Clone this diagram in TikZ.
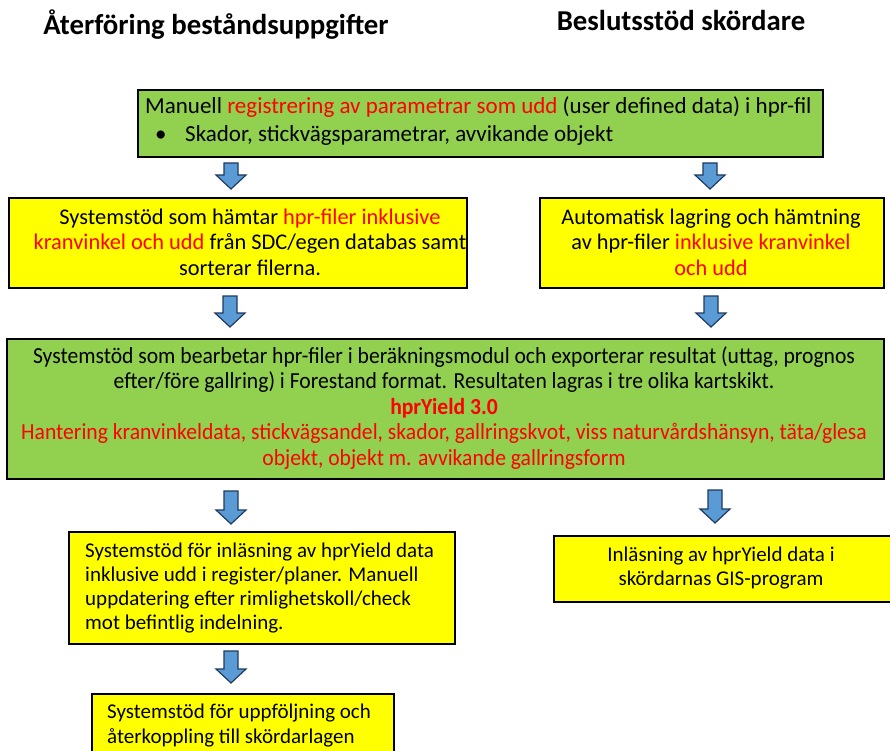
\documentclass[tikz,border=0pt]{standalone}
\usepackage{fontspec}
\setmainfont{Carlito}
\newfontfamily\condfont{Carlito}[FakeStretch=0.94]
\definecolor{gr}{HTML}{92D050}
\definecolor{ye}{HTML}{FFFF00}
\definecolor{rd}{HTML}{FF0000}
\definecolor{ab}{HTML}{5B9BD5}
\definecolor{abd}{HTML}{1F3A5F}
\tikzset{
  box/.style={draw=black, line width=1.6pt, inner sep=0pt, anchor=north west},
  gbox/.style={box, fill=gr},
  ybox/.style={box, fill=ye},
  txt/.style={inner sep=0pt, text=black},
  pics/barrow/.style={code={
    \draw[line width=1.2pt, draw=abd, fill=ab, line join=miter]
      (-7,0) -- (7,0) -- (7,#1-14) -- (15,#1-14) -- (0,#1) -- (-15,#1-14) -- (-7,#1-14) -- cycle;}}
}
\newcommand{\rt}[1]{\textcolor{rd}{#1}}
\begin{document}
\begin{tikzpicture}[x=1pt,y=-1pt]
\useasboundingbox (0,0) rectangle (890,751);
\clip (0,0) rectangle (890,751);
% titles
\node[txt, font=\fontsize{28.8}{32}\selectfont\bfseries] (titleL) at (216,25) {Återföring beståndsuppgifter};
\node[txt, font=\fontsize{28.8}{32}\selectfont\bfseries] (titleR) at (681,21) {Beslutsstöd skördare};
% top green box
\node[gbox, minimum width=685pt, minimum height=67pt] (top) at (137,89) {};
\node[txt, anchor=west, align=left, font=\fontsize{23}{28}\selectfont] (toptxt) at (145,121)
  {Manuell \rt{registrering av parametrar som udd} (user defined data) i hpr-fil\\
   \hspace*{10pt}\makebox[30pt][l]{•}Skador, stickvägsparametrar, avvikande objekt};
\pic (a1) at (231,163) {barrow=26};
\pic (a2) at (710,163) {barrow=26};
% second row
\node[ybox, minimum width=458pt, minimum height=90pt] (yl1) at (8,197) {};
\node[txt, align=center, font=\fontsize{22.4}{25.5}\selectfont] (yl1txt) at (250,242)
  {Systemstöd som hämtar \rt{hpr-filer inklusive}\\
   \rt{kranvinkel och udd} från SDC/egen databas samt\\
   sorterar filerna.};
\node[ybox, minimum width=344pt, minimum height=90pt] (yr1) at (539,197) {};
\node[txt, align=center, font=\fontsize{22.3}{25.5}\selectfont] (yr1txt) at (711,242)
  {Automatisk lagring och hämtning\\
   av hpr-filer \rt{inklusive kranvinkel}\\
   \rt{och udd}};
\pic (a3) at (230,296) {barrow=31};
\pic (a4) at (711,296) {barrow=31};
% big green box
\node[gbox, minimum width=877pt, minimum height=140pt] (mid) at (6,338) {};
\node[txt, align=center, font=\fontsize{23}{25.5}\condfont] (midtxt) at (444,408)
  {Systemstöd som bearbetar hpr-filer i beräkningsmodul och exporterar resultat (uttag, prognos\\
   efter/före gallring) i Forestand format. Resultaten lagras i tre olika kartskikt.\\
   \rt{\bfseries hprYield 3.0}\\
   \rt{Hantering kranvinkeldata, stickvägsandel, skador, gallringskvot, viss naturvårdshänsyn, täta/glesa}\\
   \rt{objekt, objekt m. avvikande gallringsform}};
\pic (a5) at (231,491) {barrow=33};
\pic (a6) at (715,490) {barrow=33};
% third row
\node[ybox, minimum width=386pt, minimum height=112pt] (yl2) at (68,531) {};
\node[txt, anchor=west, align=left, font=\fontsize{21}{24}\selectfont] (yl2txt) at (85,588)
  {Systemstöd för inläsning av hprYield data\\
   inklusive udd i register/planer. Manuell\\
   uppdatering efter rimlighetskoll/check\\
   mot befintlig indelning.};
\node[ybox, minimum width=345pt, minimum height=66pt] (yr2) at (553,535) {};
\node[txt, align=center, font=\fontsize{21}{24}\selectfont] (yr2txt) at (721,568)
  {Inläsning av hprYield data i\\
   skördarnas GIS-program};
\pic (a7) at (231,651) {barrow=32};
% bottom box
\node[ybox, minimum width=302pt, minimum height=80pt] (yl3) at (91,693) {};
\node[txt, anchor=north west, align=left, font=\fontsize{21}{25}\selectfont] (yl3txt) at (107,704)
  {Systemstöd för uppföljning och\\
   återkoppling till skördarlagen};
\end{tikzpicture}
\end{document}
